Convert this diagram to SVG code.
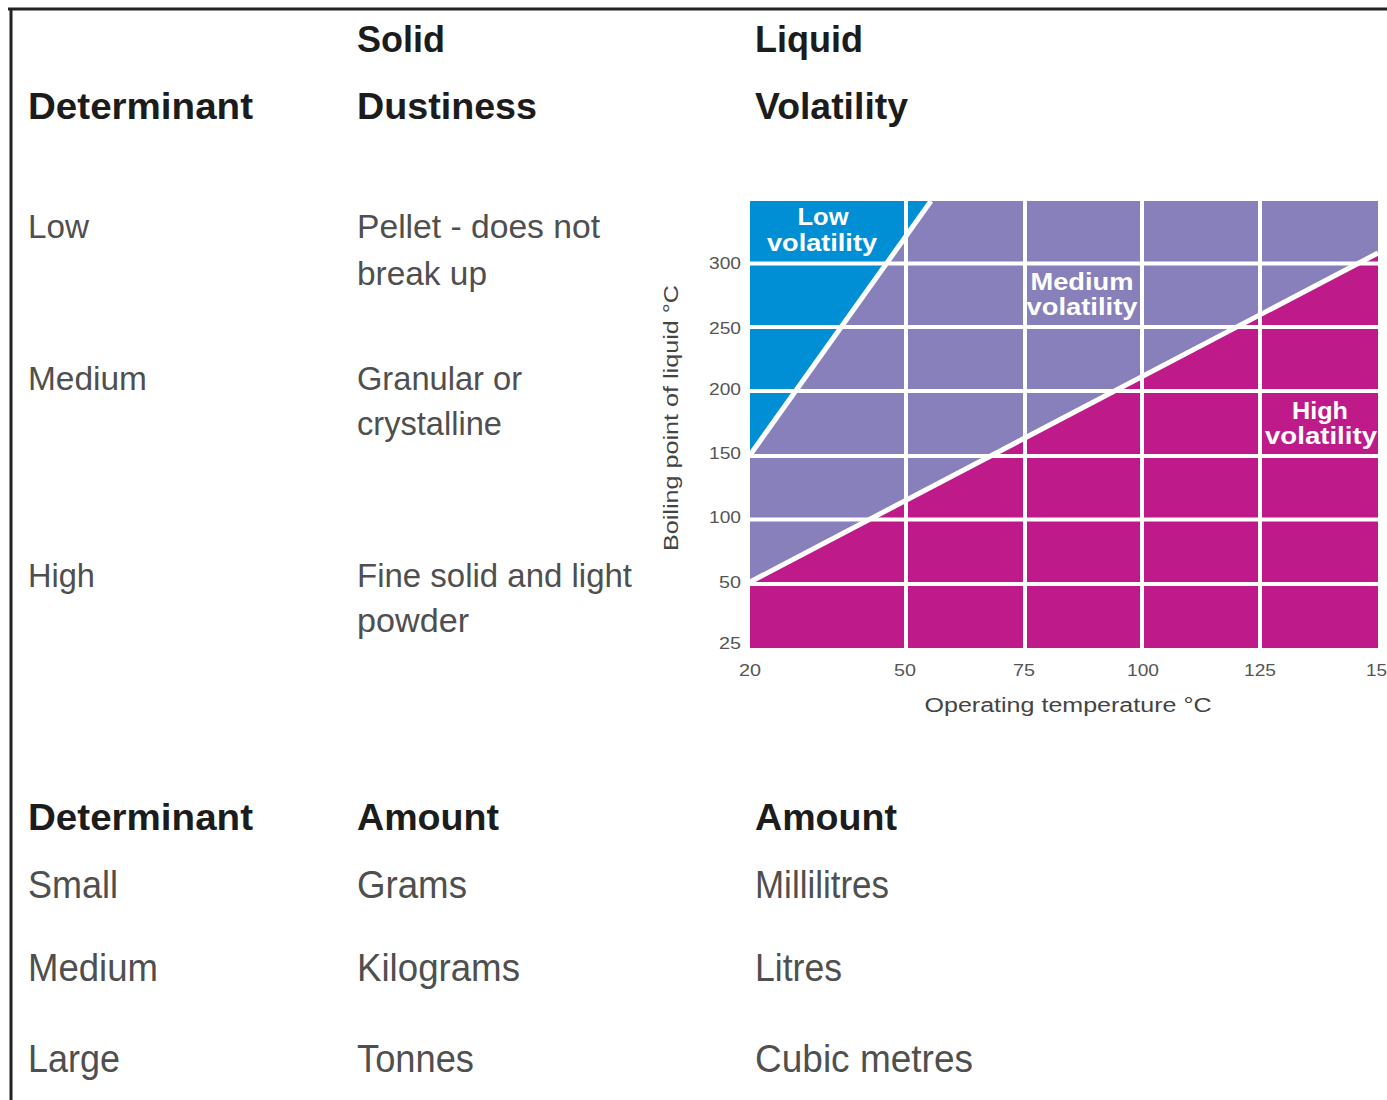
<svg xmlns="http://www.w3.org/2000/svg" width="1387" height="1100" viewBox="0 0 1387 1100">
<style>
.h{font-family:"Liberation Sans",Arial,sans-serif;font-weight:bold;font-size:37px;fill:#1c1c1c}
.b{font-family:"Liberation Sans",Arial,sans-serif;font-size:34px;fill:#4f4f4f}
.b2{font-family:"Liberation Sans",Arial,sans-serif;font-size:38px;fill:#4f4f4f}
.tk{font-family:"Liberation Sans",Arial,sans-serif;font-size:17px;fill:#555}
.ax{font-family:"Liberation Sans",Arial,sans-serif;font-size:20px;fill:#444}
.zl{font-family:"Liberation Sans",Arial,sans-serif;font-weight:bold;font-size:24px;fill:#fff;text-anchor:middle}
.grid{stroke:#fff;stroke-width:4;fill:none}
.div{stroke:#fff;stroke-width:5;fill:none}
</style>

<rect width="1387" height="1100" fill="#fff"/>

<g id="frame" stroke="#222" stroke-width="3" fill="none">
  <line x1="8" y1="9" x2="1387" y2="9"/>
  <line x1="11" y1="8" x2="11" y2="1100"/>
</g>

<g id="top-table">
  <text class="h" x="357" y="52" textLength="88" lengthAdjust="spacingAndGlyphs">Solid</text>
  <text class="h" x="755" y="52" textLength="108" lengthAdjust="spacingAndGlyphs">Liquid</text>
  <text class="h" x="28" y="119" textLength="225" lengthAdjust="spacingAndGlyphs">Determinant</text>
  <text class="h" x="357" y="119" textLength="180" lengthAdjust="spacingAndGlyphs">Dustiness</text>
  <text class="h" x="755" y="119" textLength="153" lengthAdjust="spacingAndGlyphs">Volatility</text>

  <text class="b" x="28" y="238" textLength="61" lengthAdjust="spacingAndGlyphs">Low</text>
  <text class="b" x="357" y="238" textLength="243" lengthAdjust="spacingAndGlyphs">Pellet - does not</text>
  <text class="b" x="357" y="285" textLength="130" lengthAdjust="spacingAndGlyphs">break up</text>

  <text class="b" x="28" y="390" textLength="119" lengthAdjust="spacingAndGlyphs">Medium</text>
  <text class="b" x="357" y="390" textLength="165" lengthAdjust="spacingAndGlyphs">Granular or</text>
  <text class="b" x="357" y="435" textLength="145" lengthAdjust="spacingAndGlyphs">crystalline</text>

  <text class="b" x="28" y="587" textLength="67" lengthAdjust="spacingAndGlyphs">High</text>
  <text class="b" x="357" y="587" textLength="275" lengthAdjust="spacingAndGlyphs">Fine solid and light</text>
  <text class="b" x="357" y="632" textLength="112" lengthAdjust="spacingAndGlyphs">powder</text>
</g>

<g id="chart">
  <rect x="750" y="201" width="628" height="447" fill="#8880ba"/>
  <polygon points="750,201 931,201 750,455" fill="#008fd5"/>
  <polygon points="750,582 1378,253 1378,648 750,648" fill="#be1a8a"/>
  <g class="grid">
    <line x1="906" y1="201" x2="906" y2="648"/>
    <line x1="1025" y1="201" x2="1025" y2="648"/>
    <line x1="1142" y1="201" x2="1142" y2="648"/>
    <line x1="1260" y1="201" x2="1260" y2="648"/>
    <line x1="750" y1="263.5" x2="1378" y2="263.5"/>
    <line x1="750" y1="327" x2="1378" y2="327"/>
    <line x1="750" y1="391" x2="1378" y2="391"/>
    <line x1="750" y1="456" x2="1378" y2="456"/>
    <line x1="750" y1="519.5" x2="1378" y2="519.5"/>
    <line x1="750" y1="584" x2="1378" y2="584"/>
  </g>
  <g class="div">
    <line x1="750" y1="455" x2="931" y2="201"/>
    <line x1="750" y1="582" x2="1378" y2="253"/>
  </g>
  <text class="zl" x="823" y="225" textLength="51" lengthAdjust="spacingAndGlyphs">Low</text>
  <text class="zl" x="822" y="251" textLength="110" lengthAdjust="spacingAndGlyphs">volatility</text>
  <text class="zl" x="1082" y="290" textLength="103" lengthAdjust="spacingAndGlyphs">Medium</text>
  <text class="zl" x="1082" y="315" textLength="111" lengthAdjust="spacingAndGlyphs">volatility</text>
  <text class="zl" x="1320" y="419" textLength="56" lengthAdjust="spacingAndGlyphs">High</text>
  <text class="zl" x="1321" y="444" textLength="112" lengthAdjust="spacingAndGlyphs">volatility</text>

  <g id="y-ticks" text-anchor="end">
    <text class="tk" x="741" y="269" textLength="32" lengthAdjust="spacingAndGlyphs">300</text>
    <text class="tk" x="741" y="334" textLength="32" lengthAdjust="spacingAndGlyphs">250</text>
    <text class="tk" x="741" y="395" textLength="32" lengthAdjust="spacingAndGlyphs">200</text>
    <text class="tk" x="741" y="459" textLength="32" lengthAdjust="spacingAndGlyphs">150</text>
    <text class="tk" x="741" y="523" textLength="32" lengthAdjust="spacingAndGlyphs">100</text>
    <text class="tk" x="741" y="588" textLength="22" lengthAdjust="spacingAndGlyphs">50</text>
    <text class="tk" x="741" y="649" textLength="22" lengthAdjust="spacingAndGlyphs">25</text>
  </g>
  <g id="x-ticks" text-anchor="middle">
    <text class="tk" x="750" y="676" textLength="22" lengthAdjust="spacingAndGlyphs">20</text>
    <text class="tk" x="905" y="676" textLength="22" lengthAdjust="spacingAndGlyphs">50</text>
    <text class="tk" x="1024" y="676" textLength="22" lengthAdjust="spacingAndGlyphs">75</text>
    <text class="tk" x="1143" y="676" textLength="32" lengthAdjust="spacingAndGlyphs">100</text>
    <text class="tk" x="1260" y="676" textLength="32" lengthAdjust="spacingAndGlyphs">125</text>
    <text class="tk" x="1366" y="676" text-anchor="start" textLength="21" lengthAdjust="spacingAndGlyphs">15</text>
  </g>
  <text class="ax" x="1068" y="712" text-anchor="middle" textLength="287" lengthAdjust="spacingAndGlyphs">Operating temperature °C</text>
  <text class="ax" transform="translate(678 418) rotate(-90)" x="0" y="0" text-anchor="middle" textLength="266" lengthAdjust="spacingAndGlyphs">Boiling point of liquid °C</text>
</g>

<g id="bottom-table">
  <text class="h" x="28" y="830" textLength="225" lengthAdjust="spacingAndGlyphs">Determinant</text>
  <text class="h" x="357" y="830" textLength="142" lengthAdjust="spacingAndGlyphs">Amount</text>
  <text class="h" x="755" y="830" textLength="142" lengthAdjust="spacingAndGlyphs">Amount</text>

  <text class="b2" x="28" y="898" textLength="90" lengthAdjust="spacingAndGlyphs">Small</text>
  <text class="b2" x="357" y="898" textLength="110" lengthAdjust="spacingAndGlyphs">Grams</text>
  <text class="b2" x="755" y="898" textLength="134" lengthAdjust="spacingAndGlyphs">Millilitres</text>

  <text class="b2" x="28" y="981" textLength="130" lengthAdjust="spacingAndGlyphs">Medium</text>
  <text class="b2" x="357" y="981" textLength="163" lengthAdjust="spacingAndGlyphs">Kilograms</text>
  <text class="b2" x="755" y="981" textLength="87" lengthAdjust="spacingAndGlyphs">Litres</text>

  <text class="b2" x="28" y="1072" textLength="92" lengthAdjust="spacingAndGlyphs">Large</text>
  <text class="b2" x="357" y="1072" textLength="117" lengthAdjust="spacingAndGlyphs">Tonnes</text>
  <text class="b2" x="755" y="1072" textLength="218" lengthAdjust="spacingAndGlyphs">Cubic metres</text>
</g>
</svg>
